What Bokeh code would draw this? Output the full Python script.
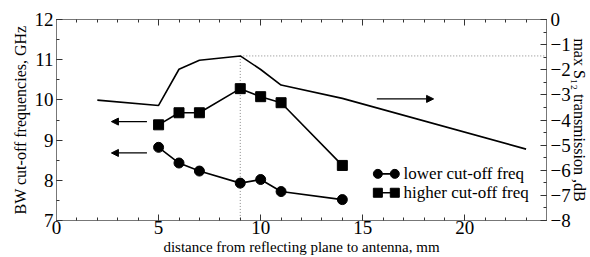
from bokeh.plotting import figure
from bokeh.models import (Range1d, LinearAxis, SingleIntervalTicker, Arrow, NormalHead)
from bokeh.core.properties import value
from bokeh.embed import file_html
from bokeh.resources import INLINE

# ---- data ----
x_pts = [5, 6, 7, 9, 10, 11, 14]
lower_cutoff = [8.82, 8.43, 8.23, 7.93, 8.02, 7.72, 7.52]
higher_cutoff = [9.38, 9.68, 9.68, 10.28, 10.08, 9.93, 8.37]
s12_x = [2, 5, 6, 7, 9, 10, 11, 14, 23]
s12_db = [-3.21, -3.42, -1.98, -1.62, -1.45, -1.99, -2.61, -3.14, -5.16]
legend_labels = ["lower cut-off freq", "higher cut-off freq"]
x_ticks = [0, 5, 10, 15, 20]

FONT = "Liberation Serif"

p = figure(width=590, height=257, output_backend="svg", toolbar_location=None,
           x_range=Range1d(0, 24), y_range=Range1d(7, 12),
           min_border_left=56, min_border_right=43, min_border_top=19, min_border_bottom=36)
p.extra_y_ranges = {"s12": Range1d(-8, 0)}
p.grid.visible = False
p.outline_line_color = "#777777"
p.background_fill_color = "white"
p.border_fill_color = "white"

def style(ax):
    ax.axis_line_color = "#777777"
    ax.major_tick_line_color = "#333333"
    ax.minor_tick_line_color = "#333333"
    ax.major_tick_in = 6
    ax.major_tick_out = 0
    ax.minor_tick_in = 3
    ax.minor_tick_out = 0
    ax.major_label_text_font = FONT
    ax.major_label_text_font_size = "19px"
    ax.major_label_text_color = "black"
    ax.axis_label_text_font = FONT
    ax.axis_label_text_font_size = "16px"
    ax.axis_label_text_font_style = "normal"
    ax.axis_label_text_color = "black"

xb = p.xaxis[0]
xb.ticker = SingleIntervalTicker(interval=5, num_minor_ticks=5)
xb.axis_label = "distance from reflecting plane to antenna, mm"
style(xb)
xb.axis_label_text_font_size = "15px"
xb.major_label_standoff = 0
xb.axis_label_standoff = 2

yl = p.yaxis[0]
yl.ticker = SingleIntervalTicker(interval=1, num_minor_ticks=2)
yl.axis_label = "BW cut-off frequencies, GHz"
style(yl)
yl.major_label_standoff = 3
yl.axis_label_standoff = 3

yr = LinearAxis(y_range_name="s12", ticker=SingleIntervalTicker(interval=1, num_minor_ticks=2),
                axis_label="max S\u2081\u2082 transmission ,dB")
style(yr)
yr.major_label_standoff = 4
yr.axis_label_standoff = -3
p.add_layout(yr, "right")

xt = LinearAxis(ticker=SingleIntervalTicker(interval=5, num_minor_ticks=5))
style(xt)
xt.major_label_overrides = {t: "" for t in x_ticks}
xt.major_label_text_font_size = "1px"
xt.major_label_standoff = 0
p.add_layout(xt, "above")

# dotted guides at the S12 maximum
imax = s12_db.index(max(s12_db))
p.line([s12_x[imax], 24], [s12_db[imax], s12_db[imax]], y_range_name="s12",
       line_color="#888888", line_dash="1 2", line_width=1)
p.line([s12_x[imax], s12_x[imax]], [s12_db[imax], -8], y_range_name="s12",
       line_color="#888888", line_dash="1 2", line_width=1)

# S12 curve
p.line(s12_x, s12_db, y_range_name="s12", line_color="black", line_width=1.6)

# cut-off curves
p.line(x_pts, lower_cutoff, line_color="black", line_width=1.6)
p.scatter(x_pts, lower_cutoff, marker="circle", size=10, fill_color="black", line_color="black")
p.line(x_pts, higher_cutoff, line_color="black", line_width=1.6)
p.scatter(x_pts, higher_cutoff, marker="square", size=10, fill_color="black", line_color="black")

# arrows
def arrow(x0, x1, y, rng="default"):
    p.add_layout(Arrow(end=NormalHead(size=7, fill_color="black", line_color="black"),
                       x_start=x0, x_end=x1, y_start=y, y_end=y, y_range_name=rng,
                       line_color="black", line_width=1.3))

arrow(4.43, 2.69, 9.46)
arrow(4.43, 2.69, 8.68)
arrow(15.69, 18.47, -3.16, "s12")

# custom legend
leg_x = [15.74, 16.57]
leg_y = [8.16, 7.69]
for mk, yy, lab in zip(["circle", "square"], leg_y, legend_labels):
    p.line(leg_x, [yy, yy], line_color="black", line_width=1.6)
    p.scatter(leg_x, [yy, yy], marker=mk, size=9, fill_color="black", line_color="black")
    p.text([17.0], [yy], text=[lab], text_font=value(FONT), text_font_size="17px",
           text_baseline="middle", text_align="left", text_color="black")

open("out.html", "w").write(file_html(p, INLINE))
